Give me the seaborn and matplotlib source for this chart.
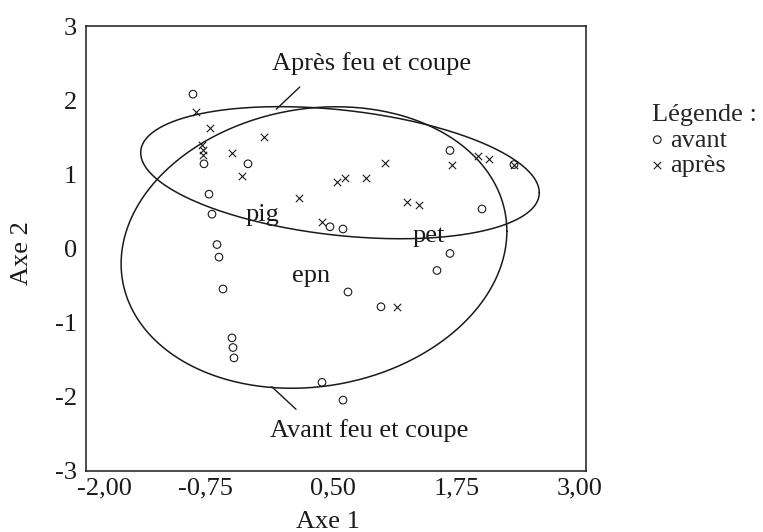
import matplotlib
matplotlib.use('Agg')
import matplotlib.pyplot as plt
import matplotlib.transforms as mtransforms
import seaborn as sns
import numpy as np
import pandas as pd

# points "avant" (circles)
avant_x = [-0.93, -0.82, -0.38, -0.77, -0.74, -0.69, -0.67, -0.63, -0.54, -0.53, -0.52,
           0.36, 0.57, 0.62, 0.95, 0.44, 0.57, 1.64, 2.28, 1.96, 1.64, 1.51]
avant_y = [2.08, 1.14, 1.14, 0.73, 0.46, 0.05, -0.12, -0.55, -1.21, -1.34, -1.48,
           -1.81, -2.05, -0.59, -0.79, 0.29, 0.26, 1.32, 1.13, 0.53, -0.07, -0.30]

# points "après" (crosses)
apres_x = [-0.90, -0.76, -0.84, -0.83, -0.83, -0.54, -0.22, -0.44, 0.13, 0.36, 0.51,
           0.59, 0.80, 0.99, 1.21, 1.33, 1.66, 1.92, 2.03, 2.28, 1.11]
apres_y = [1.84, 1.62, 1.39, 1.33, 1.26, 1.29, 1.50, 0.98, 0.68, 0.35, 0.90,
           0.95, 0.95, 1.15, 0.62, 0.59, 1.13, 1.25, 1.20, 1.13, -0.79]

# ellipses (centre, covariance shape)
apres_center = [0.54, 1.02]
apres_cov = [[3.972, -0.538], [-0.538, 0.795]]
avant_center = [0.28, 0.01]
avant_cov = [[3.72, 0.424], [0.424, 3.61]]

# annotation pointers
apres_pointer_x = [0.138, -0.097]
apres_pointer_y = [2.177, 1.877]
avant_pointer_x = [-0.143, 0.10]
avant_pointer_y = [-1.868, -2.173]

group_labels = [("pig", -0.234, 0.45), ("pet", 1.43, 0.166), ("epn", 0.255, -0.38)]

xticks = [-2.0, -0.75, 0.5, 1.75, 3.0]
xtick_labels = ["-2,00", "-0,75", "0,50", "1,75", "3,00"]
xtick_shift_px = [18, -6, -3, -4, -6]
yticks = [-3, -2, -1, 0, 1, 2, 3]

df_avant = pd.DataFrame({"x": avant_x, "y": avant_y})
df_apres = pd.DataFrame({"x": apres_x, "y": apres_y})

sns.set_theme(style="white")
plt.rcParams['font.family'] = ['Liberation Serif', 'DejaVu Serif']
plt.rcParams['axes.unicode_minus'] = False
ink = "#1a1a1a"
fs = 19

fig = plt.figure(figsize=(7.63, 5.32), dpi=100)
ax = fig.add_axes([0.1127, 0.1156, 0.6553, 0.8355])

sns.scatterplot(data=df_avant, x="x", y="y", ax=ax, marker="o", s=30,
                facecolor="none", edgecolor=ink, linewidth=0.8, label="avant")
sns.scatterplot(data=df_apres, x="x", y="y", ax=ax, marker="x", s=28,
                color=ink, linewidth=0.8, label="après")


def draw_ellipse(center, cov):
    t = np.linspace(0, 2 * np.pi, 400)
    L = np.linalg.cholesky(np.array(cov))
    pts = L @ np.vstack([np.cos(t), np.sin(t)])
    ax.plot(center[0] + pts[0], center[1] + pts[1], color=ink, lw=1.1)


draw_ellipse(apres_center, apres_cov)
draw_ellipse(avant_center, avant_cov)

ax.plot(apres_pointer_x, apres_pointer_y, color=ink, lw=1.0)
ax.plot(avant_pointer_x, avant_pointer_y, color=ink, lw=1.0)

ax.text(0.856, 2.49, "Après feu et coupe", ha="center", va="center", fontsize=fs, color=ink)
ax.text(0.832, -2.466, "Avant feu et coupe", ha="center", va="center", fontsize=fs, color=ink)
for name, lx, ly in group_labels:
    ax.text(lx, ly, name, ha="center", va="center", fontsize=fs, color=ink)

ax.set_xlim(-2, 3)
ax.set_ylim(-3, 3)
ax.set_xticks(xticks)
ax.set_xticklabels(xtick_labels)
ax.set_yticks(yticks)
ax.tick_params(axis="both", length=0, labelsize=fs, colors=ink)
ax.tick_params(axis="y", pad=6.5)
ax.tick_params(axis="x", pad=5)

for lab, dx in zip(ax.get_xticklabels(), xtick_shift_px):
    lab.set_transform(lab.get_transform() +
                      mtransforms.ScaledTranslation(dx / 100, 0, fig.dpi_scale_trans))

for sp in ax.spines.values():
    sp.set_visible(True)
    sp.set_color(ink)
    sp.set_linewidth(1.1)

ax.set_xlabel("Axe 1", fontsize=fs, color=ink, va="center")
ax.xaxis.set_label_coords(0.483, -0.116)
ax.set_ylabel("Axe 2", fontsize=fs, color=ink, va="center")
ax.yaxis.set_label_coords(-0.128, 0.49)

ax.get_legend().remove()
handles, labels = ax.get_legend_handles_labels()
leg = fig.legend(handles, labels, title="Légende :", loc="upper left",
                 bbox_to_anchor=(652 / 763, 1 - 104 / 532), frameon=False,
                 fontsize=fs, title_fontsize=fs, borderpad=0, borderaxespad=0,
                 handlelength=0.4, handletextpad=0.3, labelspacing=0.08,
                 alignment="left", markerscale=1.0)

fig.savefig("out.png", dpi=100)
plt.close(fig)
